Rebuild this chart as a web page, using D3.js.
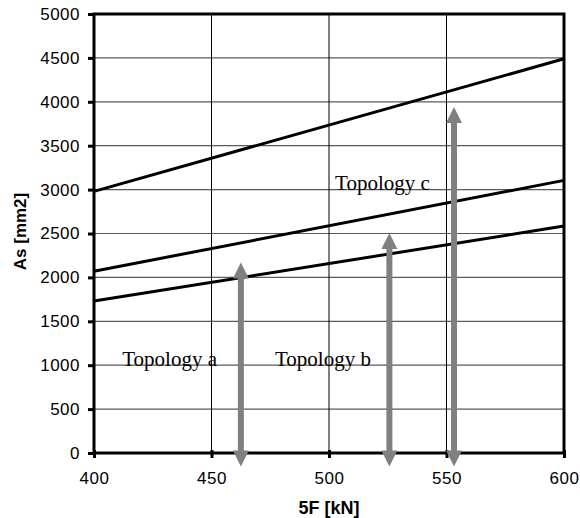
<!DOCTYPE html>
<html>
<head>
<meta charset="utf-8">
<script src="https://cdn.jsdelivr.net/npm/d3@7"></script>
<style>
  body { margin: 0; background: #fff; }
  svg { display: block; }
</style>
</head>
<body>
<svg width="580" height="518"></svg>
<script>
// data
var forceValues = [400, 600];
var topologyLines = [
  [2980, 4490],
  [2070, 3105],
  [1730, 2585]
];
var arrowX = [462.5, 525.7, 553.2];
var arrowTop = [2170, 2505, 3940];
var arrowBottom = [-155, -155, -155];
var labels = ["Topology a", "Topology b", "Topology c"];
var labelX = [412, 477, 502.6];
var labelY = [990, 990, 2990];
var xTicks = [400, 450, 500, 550, 600];
var yTicks = [0, 500, 1000, 1500, 2000, 2500, 3000, 3500, 4000, 4500, 5000];

var svg = d3.select("svg"),
    margin = {left: 94, right: 16, top: 14, bottom: 65},
    width = +svg.attr("width") - margin.left - margin.right,
    height = +svg.attr("height") - margin.top - margin.bottom;

var x = d3.scaleLinear().domain([400, 600]).range([0, width]);
var y = d3.scaleLinear().domain([0, 5000]).range([height, 0]);

var g = svg.append("g").attr("transform", "translate(" + margin.left + "," + margin.top + ")");

// grid
g.append("g").selectAll("line")
    .data(yTicks.slice(1, -1))
    .enter().append("line")
    .attr("x1", 0).attr("x2", width)
    .attr("y1", d => y(d)).attr("y2", d => y(d))
    .attr("stroke", "#5a5a5a").attr("stroke-width", 1.2);

g.append("g").selectAll("line")
    .data(xTicks.slice(1, -1))
    .enter().append("line")
    .attr("y1", 0).attr("y2", height)
    .attr("x1", d => x(d)).attr("x2", d => x(d))
    .attr("stroke", "#000").attr("stroke-width", 1);

// series
var line = d3.line()
    .x((d, i) => x(forceValues[i]))
    .y(d => y(d));

g.append("g").selectAll("path")
    .data(topologyLines)
    .enter().append("path")
    .attr("d", line)
    .attr("fill", "none")
    .attr("stroke", "#000")
    .attr("stroke-width", 3);

// labels
g.append("g").selectAll("text")
    .data(labels)
    .enter().append("text")
    .attr("x", (d, i) => x(labelX[i]))
    .attr("y", (d, i) => y(labelY[i]))
    .attr("font-family", "Liberation Serif, Times New Roman, serif")
    .attr("font-size", 21)
    .attr("fill", "#000")
    .text(d => d);

// frame
g.append("rect")
    .attr("width", width).attr("height", height)
    .attr("fill", "none").attr("stroke", "#000").attr("stroke-width", 3);

// axes
var yAxis = g.append("g")
    .call(d3.axisLeft(y).tickValues(yTicks).tickFormat(d3.format("d")).tickSize(6).tickPadding(8));
var xAxis = g.append("g")
    .attr("transform", "translate(0," + height + ")")
    .call(d3.axisBottom(x).tickValues(xTicks).tickFormat(d3.format("d")).tickSize(5).tickPadding(14));

[yAxis, xAxis].forEach(function(a) {
  a.select(".domain").remove();
  a.selectAll("line").attr("stroke", "#000").attr("stroke-width", 3);
  a.selectAll("text")
    .attr("font-family", "Liberation Sans, Arial, sans-serif")
    .attr("font-size", 17)
    .attr("letter-spacing", 0.5)
    .attr("fill", "#000");
});
xAxis.selectAll("line").attr("y1", -3);

// arrows
var arrows = g.append("g").selectAll("g")
    .data(arrowX)
    .enter().append("g");

arrows.append("line")
    .attr("x1", d => x(d)).attr("x2", d => x(d))
    .attr("y1", (d, i) => y(arrowTop[i]) + 12)
    .attr("y2", (d, i) => y(arrowBottom[i]) - 12)
    .attr("stroke", "#808080").attr("stroke-width", 6);

arrows.append("path")
    .attr("d", (d, i) => {
      var cx = x(d), t = y(arrowTop[i]);
      return "M" + cx + "," + t + "L" + (cx + 8) + "," + (t + 16) + "L" + (cx - 8) + "," + (t + 16) + "Z";
    })
    .attr("fill", "#808080");

arrows.append("path")
    .attr("d", (d, i) => {
      var cx = x(d), b = y(arrowBottom[i]);
      return "M" + cx + "," + b + "L" + (cx + 8) + "," + (b - 16) + "L" + (cx - 8) + "," + (b - 16) + "Z";
    })
    .attr("fill", "#808080");

// axis titles
svg.append("text")
    .attr("x", margin.left + width / 2)
    .attr("y", 514)
    .attr("text-anchor", "middle")
    .attr("font-family", "Liberation Sans, Arial, sans-serif")
    .attr("font-size", 18).attr("font-weight", "bold")
    .text("5F [kN]");

svg.append("text")
    .attr("transform", "translate(26," + (margin.top + height / 2 - 2) + ") rotate(-90)")
    .attr("text-anchor", "middle")
    .attr("font-family", "Liberation Sans, Arial, sans-serif")
    .attr("font-size", 17).attr("font-weight", "bold")
    .text("As [mm2]");
</script>
</body>
</html>
